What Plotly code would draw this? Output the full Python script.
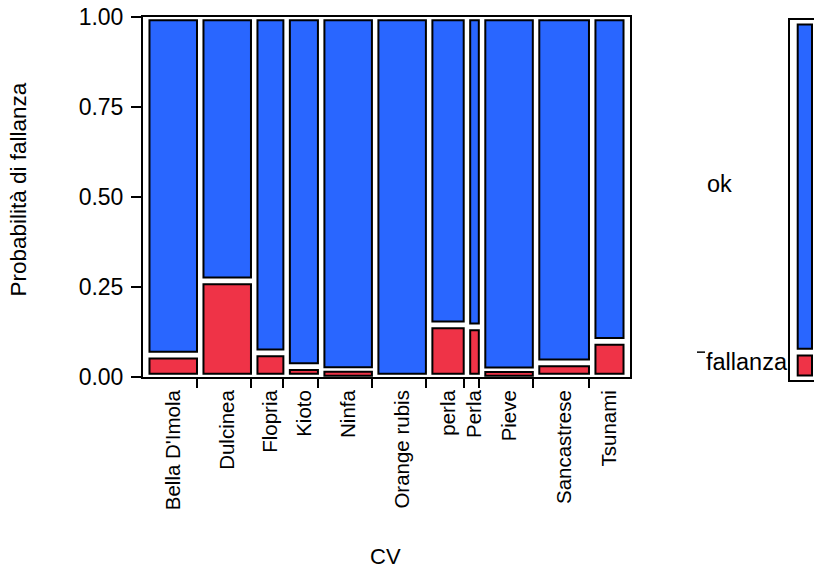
import numpy as np
import plotly.graph_objects as go

# Varietà (CV), numero di piante per varietà e quota di fallanze osservata
cv = ["Bella D'Imola", "Dulcinea", "Flopria", "Kioto", "Ninfa", "Orange rubis",
      "perla", "Perla", "Pieve", "Sancastrese", "Tsunami"]
n_piante = [50, 50, 30, 32, 50, 50, 35, 14, 50, 52, 32]
p_fallanza = [0.061, 0.267, 0.067, 0.029, 0.018, 0.0, 0.145, 0.139, 0.017, 0.039, 0.099]

livelli = ["ok", "fallanza"]
y_tickvals = [0.0, 0.25, 0.50, 0.75, 1.0]
y_ticktext = ["0.00", "0.25", "0.50", "0.75", "1.00"]

BLU = "#2966FF"
ROSSO = "#EF3347"
FONT = "Liberation Sans, Arial, sans-serif"

n = np.array(n_piante, dtype=float)
p = np.array(p_fallanza, dtype=float)

# geometria del mosaico: larghezza delle colonne proporzionale al numero di piante
gx = 3.0        # spazio tra le colonne (unità piante)
gy = 0.0093     # spazio tra le celle (unità di probabilità)
min_h = 0.0105  # altezza minima visibile di una cella
edges = np.concatenate([[0.0], np.cumsum(n)])
centri = (edges[:-1] + edges[1:]) / 2
larghezze = n - 2 * gx
confini = edges[1:-1] - gx

# celle "fallanza" (in basso)
r_base, r_alt = [], []
for pi in p:
    if pi <= 0:
        r_base.append(None)
        r_alt.append(None)
        continue
    lo, hi = gy, pi - gy
    if hi - lo < min_h:
        mid = (lo + hi) / 2
        lo, hi = mid - min_h / 2, mid + min_h / 2
    r_base.append(lo)
    r_alt.append(hi - lo)

# celle "ok" (in alto)
b_base = p + gy
b_alt = (1 - gy) - b_base

# distribuzione marginale complessiva
p_tot = float((n * p).sum() / n.sum())

fig = go.Figure()
fig.add_trace(go.Bar(x=centri, y=b_alt, base=b_base, width=larghezze, name=livelli[0],
                     marker=dict(color=BLU, line=dict(color="black", width=2)),
                     xaxis="x", yaxis="y", hoverinfo="skip"))
fig.add_trace(go.Bar(x=centri, y=r_alt, base=r_base, width=larghezze, name=livelli[1],
                     marker=dict(color=ROSSO, line=dict(color="black", width=2)),
                     xaxis="x", yaxis="y", hoverinfo="skip"))
# asse delle etichette delle varietà
fig.add_trace(go.Scatter(x=centri, y=[0.5] * len(centri), mode="markers",
                         marker=dict(opacity=0), xaxis="x2", yaxis="y",
                         hoverinfo="skip", showlegend=False))

# colonna marginale a destra
fig.add_trace(go.Bar(x=[14.85], y=[(1 - gy) - (p_tot + gy)], base=[p_tot + gy], width=[14.3],
                     marker=dict(color=BLU, line=dict(color="black", width=2)),
                     xaxis="x3", yaxis="y3", hoverinfo="skip"))
fig.add_trace(go.Bar(x=[14.85], y=[(p_tot - gy) - gy], base=[gy], width=[14.3],
                     marker=dict(color=ROSSO, line=dict(color="black", width=2)),
                     xaxis="x3", yaxis="y3", hoverinfo="skip"))

W, H = 814, 568
ml, mr, mt, mb = 143, 0, 17, 188
pw, ph = W - ml - mr, H - mt - mb
x_rng = [-3, float(n.sum()) + 3]
x_dom = [0, (630 - ml) / pw]

fig.update_layout(
    width=W, height=H, barmode="overlay", showlegend=False,
    margin=dict(l=ml, r=mr, t=mt, b=mb, pad=0),
    paper_bgcolor="white", plot_bgcolor="white",
    font=dict(family=FONT, size=20, color="black"),
    xaxis=dict(domain=x_dom, range=x_rng, tickmode="array", tickvals=confini,
               ticktext=[""] * len(confini), ticks="outside", ticklen=9, tickwidth=2,
               tickcolor="black", showline=True, linewidth=2, linecolor="black",
               mirror=True, showgrid=False, zeroline=False, fixedrange=True),
    xaxis2=dict(overlaying="x", anchor="y", side="bottom", range=x_rng,
                tickmode="array", tickvals=centri, ticktext=cv, tickangle=-90,
                ticks="", showline=False, showgrid=False, zeroline=False,
                tickfont=dict(size=20.5), ticklabelstandoff=8, fixedrange=True),
    yaxis=dict(domain=[3 / ph, 1], range=[0, 1], tickmode="array", tickvals=y_tickvals,
               ticktext=y_ticktext, ticks="outside", ticklen=10, tickwidth=2,
               tickcolor="black", showline=True, linewidth=2, linecolor="black",
               mirror=True, showgrid=False, zeroline=False, tickfont=dict(size=23),
               ticklabelstandoff=3, fixedrange=True),
    xaxis3=dict(domain=[(790 - ml) / pw, 1], anchor="y3", range=[0, 24],
                showline=True, linewidth=2, linecolor="black", mirror=True,
                showticklabels=False, ticks="", showgrid=False, zeroline=False,
                fixedrange=True),
    yaxis3=dict(domain=[0, 360 / ph], anchor="x3", range=[-0.003, 1.003],
                showline=True, linewidth=2, linecolor="black", mirror=False,
                showticklabels=False, ticks="", showgrid=False, zeroline=False,
                fixedrange=True),
)

fig.add_annotation(text="Probabilità di fallanza", xref="paper", yref="paper",
                   x=(18 - ml) / pw, y=(mt + ph - 189.5) / ph, textangle=-90,
                   showarrow=False, xanchor="center", yanchor="middle",
                   font=dict(size=22.5))
fig.add_annotation(text="CV", xref="paper", yref="paper",
                   x=(385 - ml) / pw, y=(mt + ph - 556.7) / ph,
                   showarrow=False, xanchor="center", yanchor="middle",
                   font=dict(size=22))
# etichette della colonna marginale
fig.add_annotation(text=livelli[0], xref="paper", yref="y3",
                   x=(705 - ml) / pw, y=(p_tot + 1) / 2, yshift=3, showarrow=False,
                   xanchor="left", yanchor="middle", font=dict(size=23.5))
fig.add_annotation(text=livelli[1], xref="paper", yref="y3",
                   x=(704 - ml) / pw, y=p_tot / 2, yshift=4, showarrow=False,
                   xanchor="left", yanchor="middle", font=dict(size=23.5))
fig.add_shape(type="line", xref="paper", yref="y3",
              x0=(697 - ml) / pw, x1=(705 - ml) / pw, y0=p_tot, y1=p_tot,
              line=dict(color="black", width=1.5))

fig.write_html("out.html")
